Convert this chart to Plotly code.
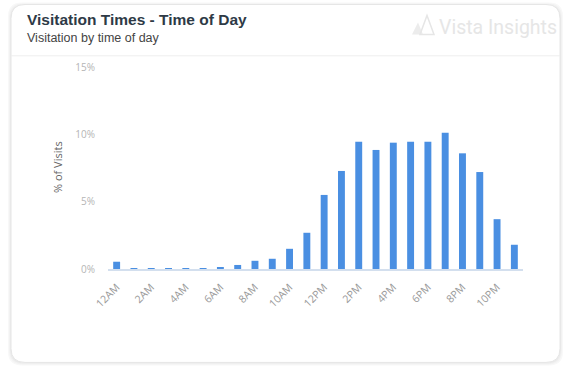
import plotly.graph_objects as go

hours = ["12AM","1AM","2AM","3AM","4AM","5AM","6AM","7AM","8AM","9AM","10AM","11AM",
         "12PM","1PM","2PM","3PM","4PM","5PM","6PM","7PM","8PM","9PM","10PM","11PM"]
visits_pct = [0.54, 0.01, 0.02, 0.01, 0.02, 0.01, 0.12, 0.3, 0.61, 0.76, 1.5, 2.69,
              5.5, 7.28, 9.45, 8.84, 9.38, 9.45, 9.45, 10.12, 8.59, 7.2, 3.7, 1.8]
tick_labels = ["12AM","2AM","4AM","6AM","8AM","10AM","12PM","2PM","4PM","6PM","8PM","10PM"]
y_ticks = [0, 5, 10, 15]
y_tick_text = ["0%", "5%", "10%", "15%"]

W, H = 563, 366
L, R, T, B = 108, 40, 66.7, 96.7
PW, PH = W - L - R, H - T - B

def px(x):
    return (x - L) / PW

def py(y):
    return (H - B - y) / PH

def rrect(x0, y0, x1, y1, r):
    return (f"M {px(x0+r)},{py(y0)} L {px(x1-r)},{py(y0)} "
            f"Q {px(x1)},{py(y0)} {px(x1)},{py(y0+r)} L {px(x1)},{py(y1-r)} "
            f"Q {px(x1)},{py(y1)} {px(x1-r)},{py(y1)} L {px(x0+r)},{py(y1)} "
            f"Q {px(x0)},{py(y1)} {px(x0)},{py(y1-r)} L {px(x0)},{py(y0+r)} "
            f"Q {px(x0)},{py(y0)} {px(x0+r)},{py(y0)} Z")

fig = go.Figure()
fig.add_trace(go.Bar(x=hours, y=visits_pct, marker_color="#4a8fe2", marker_line_width=0,
                     hoverinfo="skip"))

shapes = []
# card shadow layers
for i, c in enumerate(["#f8f8f8", "#f2f2f2", "#ebebeb"]):
    d = 3 - i
    shapes.append(dict(type="path", xref="paper", yref="paper", layer="below",
                       path=rrect(11 - d, 4 - d + 1, 560 + d, 363 + d, 14),
                       fillcolor=c, line_width=0))
shapes.append(dict(type="path", xref="paper", yref="paper", layer="below",
                   path=rrect(11, 4, 560, 363, 14), fillcolor="white",
                   line=dict(color="#e6e6e6", width=1)))
# header separator
shapes.append(dict(type="line", xref="paper", yref="paper", layer="below",
                   x0=px(11), x1=px(560), y0=py(55.5), y1=py(55.5),
                   line=dict(color="#eeeeee", width=1)))
# logo icon
shapes.append(dict(type="path", xref="paper", yref="paper", layer="below",
                   path=f"M {px(412)},{py(34)} L {px(418)},{py(22)} L {px(423)},{py(34)} Z",
                   fillcolor="#ececec", line_width=0))
shapes.append(dict(type="path", xref="paper", yref="paper", layer="below",
                   path=f"M {px(420)},{py(34)} L {px(427)},{py(15)} L {px(434)},{py(34)} Z",
                   fillcolor="rgba(0,0,0,0)", line=dict(color="#e6e6e6", width=1.5)))

annotations = [
    dict(text="<b>Visitation Times - Time of Day</b>", xref="paper", yref="paper",
         x=px(25), y=py(19), xanchor="left", yanchor="middle", showarrow=False,
         font=dict(family="Liberation Sans, Arial", size=15.5, color="#2e3a46")),
    dict(text="Visitation by time of day", xref="paper", yref="paper",
         x=px(25), y=py(38), xanchor="left", yanchor="middle", showarrow=False,
         font=dict(family="Liberation Sans, Arial", size=12.5, color="#444444")),
    dict(text="Vista Insights", xref="paper", yref="paper",
         x=px(437), y=py(27), xanchor="left", yanchor="middle", showarrow=False,
         font=dict(family="Roboto", size=19.5, color="#e6e6e6")),
    dict(text="% of Visits", xref="paper", yref="paper", textangle=-90,
         x=px(57), y=py(167), xanchor="center", yanchor="middle", showarrow=False,
         font=dict(family="Open Sans", size=11, color="#666666")),
]

fig.update_layout(
    width=W, height=H, autosize=False,
    margin=dict(l=L, r=R, t=T, b=B, pad=0),
    paper_bgcolor="white", plot_bgcolor="rgba(0,0,0,0)",
    showlegend=False, bargap=0.6,
    shapes=shapes, annotations=annotations,
    font=dict(family="Open Sans"),
    xaxis=dict(type="category", categoryorder="array", categoryarray=hours,
               range=[-0.5, 23.5], tickmode="array", tickvals=tick_labels,
               ticktext=tick_labels, tickangle=-45, showgrid=False, zeroline=False,
               showline=True, linecolor="#d3dfee", linewidth=2, ticks="",
               tickfont=dict(family="Open Sans", size=10.5, color="#999999"),
               ticklabelstandoff=6, fixedrange=True),
    yaxis=dict(range=[0, 15], tickmode="array", tickvals=y_ticks, ticktext=y_tick_text,
               showgrid=False, zeroline=False, showline=False, ticks="",
               tickfont=dict(family="Open Sans", size=10, color="#b5b5b5"),
               ticklabelstandoff=12, fixedrange=True),
)

fig.write_html("out.html", config={"displayModeBar": False})
